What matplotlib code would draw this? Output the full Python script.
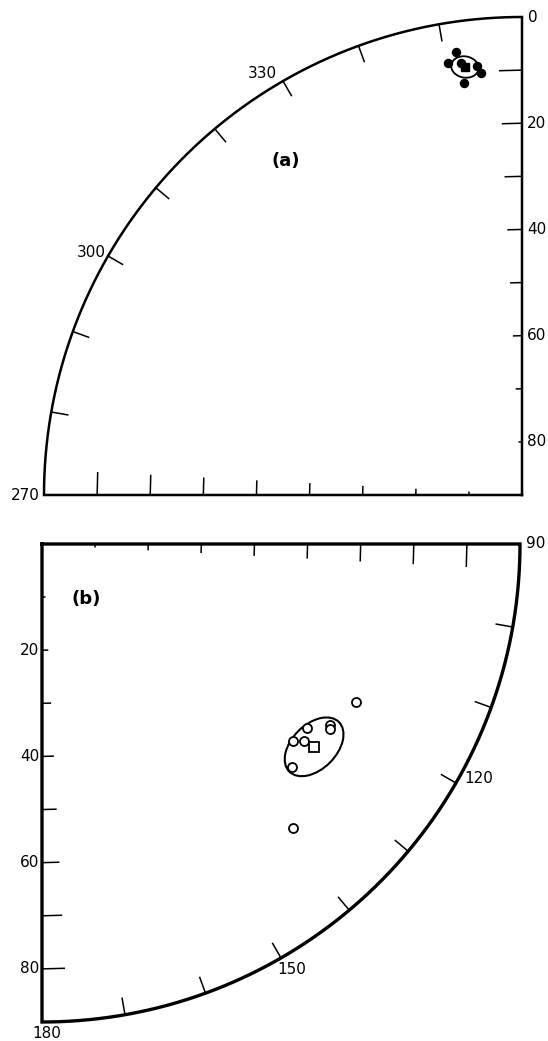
import numpy as np
import matplotlib.pyplot as plt
from matplotlib.patches import Ellipse

# panel (a): declination / inclination (solid symbols)
a_dec = [351.5, 350.3, 352.0, 354.0, 354.5, 352.0]
a_inc = [5.7, 7.5, 7.9, 8.8, 10.2, 11.7]
a_mean_dec, a_mean_inc = 352.4, 8.7
a_ell_axes = [2.6, 2.0]     # semi-axes of the confidence ellipse (deg)
a_ell_angle = -10

# panel (b): open symbols
b_dec = [116.7, 124.8, 128.1, 126.9, 131.7, 122.2, 122.7, 138.5]
b_inc = [66.2, 60.7, 60.1, 61.7, 63.1, 64.1, 64.4, 71.4]
b_mean_dec, b_mean_inc = 126.7, 63.9
b_ell_axes = [6.6, 4.2]
b_ell_angle = 45

tick_inc = [10, 20, 30, 40, 50, 60, 70, 80]
label_inc = [20, 40, 60, 80]
a_arc_ticks = [280, 290, 300, 310, 320, 330, 340, 350]
b_arc_ticks = [100, 110, 120, 130, 140, 150, 160, 170]

plt.rcParams['font.family'] = ['DejaVu Sans']
FS = 11

W, H = 548, 1041
fig = plt.figure(figsize=(W / 100, H / 100), dpi=100)


def make_panel(cx, cy, R, top, bottom):
    ax = fig.add_axes([0, 1 - bottom / H, 1, (bottom - top) / H])
    ax.set_xlim(-cx / R, (W - cx) / R)
    ax.set_ylim((cy - bottom) / R, (cy - top) / R)
    ax.axis('off')
    return ax


def xy(dec, r):
    t = np.radians(dec)
    return r * np.sin(t), r * np.cos(t)


def draw_frame(ax, az0, az1, lw):
    th = np.linspace(az0, az1, 300)
    x, y = xy(th, 1.0)
    x = np.concatenate([[0], x, [0]])
    y = np.concatenate([[0], y, [0]])
    ax.plot(x, y, color='black', lw=lw, solid_joinstyle='miter')


def edge_ticks(ax, az, sign, rfun):
    # short 3 degree arcs, so the tick length grows with the radius
    for inc in tick_inc:
        r = rfun(inc)
        x, y = xy(np.array([az, az + sign * 3.0]), r)
        ax.plot(x, y, color='black', lw=1.1)


def arc_ticks(ax, azs):
    for az in azs:
        x, y = xy(np.array([az, az]), np.array([1.0, 0.965]))
        ax.plot(x, y, color='black', lw=1.1)


def lab(ax, s, pt, dx, dy, ha, va):
    ax.annotate(s, pt, xytext=(dx * 0.72, dy * 0.72), textcoords='offset points',
                ha=ha, va=va, fontsize=FS)


# ---------------- panel (a) ----------------
ax1 = make_panel(522, 495, 478, 0, 520)
ra = lambda inc: (90 - np.asarray(inc, dtype=float)) / 90
draw_frame(ax1, 270, 360, 1.8)
edge_ticks(ax1, 360, -1, ra)
edge_ticks(ax1, 270, 1, ra)
arc_ticks(ax1, a_arc_ticks)

lab(ax1, '0', xy(0, 1.0), 6, 0, 'left', 'center')
for inc in label_inc:
    lab(ax1, str(inc), xy(0, ra(inc)), 5, 0, 'left', 'center')
lab(ax1, '270', xy(270, 1.0), -4, 0, 'right', 'center')
lab(ax1, '330', xy(330, 1.0), -6, 0, 'right', 'bottom')
lab(ax1, '300', xy(300, 1.0), -2, 3, 'right', 'center')

x, y = xy(np.array(a_dec), ra(a_inc))
ax1.plot(x, y, 'o', color='black', ms=5.8, ls='none')
mx, my = xy(a_mean_dec, ra(a_mean_inc))
ax1.plot(mx, my, 's', color='black', ms=5.5)
ax1.add_patch(Ellipse((mx, my), 2 * a_ell_axes[0] / 90, 2 * a_ell_axes[1] / 90,
                      angle=a_ell_angle, fill=False, ec='black', lw=1.3))

fig.text(286 / W, 1 - 161 / H, '(a)', fontsize=13, fontweight='bold',
         ha='center', va='center')

# ---------------- panel (b) ----------------
ax2 = make_panel(42, 544, 478, 520, H)
rb = lambda inc: np.asarray(inc, dtype=float) / 90
draw_frame(ax2, 90, 180, 2.4)
edge_ticks(ax2, 180, -1, rb)
edge_ticks(ax2, 90, 1, rb)
arc_ticks(ax2, b_arc_ticks)

lab(ax2, '90', xy(90, 1.0), 6, 0, 'left', 'center')
for inc in label_inc:
    lab(ax2, str(inc), xy(180, rb(inc)), -3, 0, 'right', 'center')
lab(ax2, '180', xy(180, 1.0), -10, -4, 'left', 'top')
lab(ax2, '150', xy(150, 1.0), -4, -4, 'left', 'top')
lab(ax2, '120', xy(120, 1.0), 8, 4, 'left', 'center')

x, y = xy(np.array(b_dec), rb(b_inc))
ax2.plot(x, y, 'o', mfc='white', mec='black', mew=1.3, ms=6.5, ls='none')
mx, my = xy(b_mean_dec, rb(b_mean_inc))
ax2.plot(mx, my, 's', mfc='white', mec='black', mew=1.3, ms=6.5)
ax2.add_patch(Ellipse((mx, my), 2 * b_ell_axes[0] / 90, 2 * b_ell_axes[1] / 90,
                      angle=b_ell_angle, fill=False, ec='black', lw=1.5))

fig.text(86 / W, 1 - 599 / H, '(b)', fontsize=13, fontweight='bold',
         ha='center', va='center')

fig.savefig('out.png', dpi=100)
